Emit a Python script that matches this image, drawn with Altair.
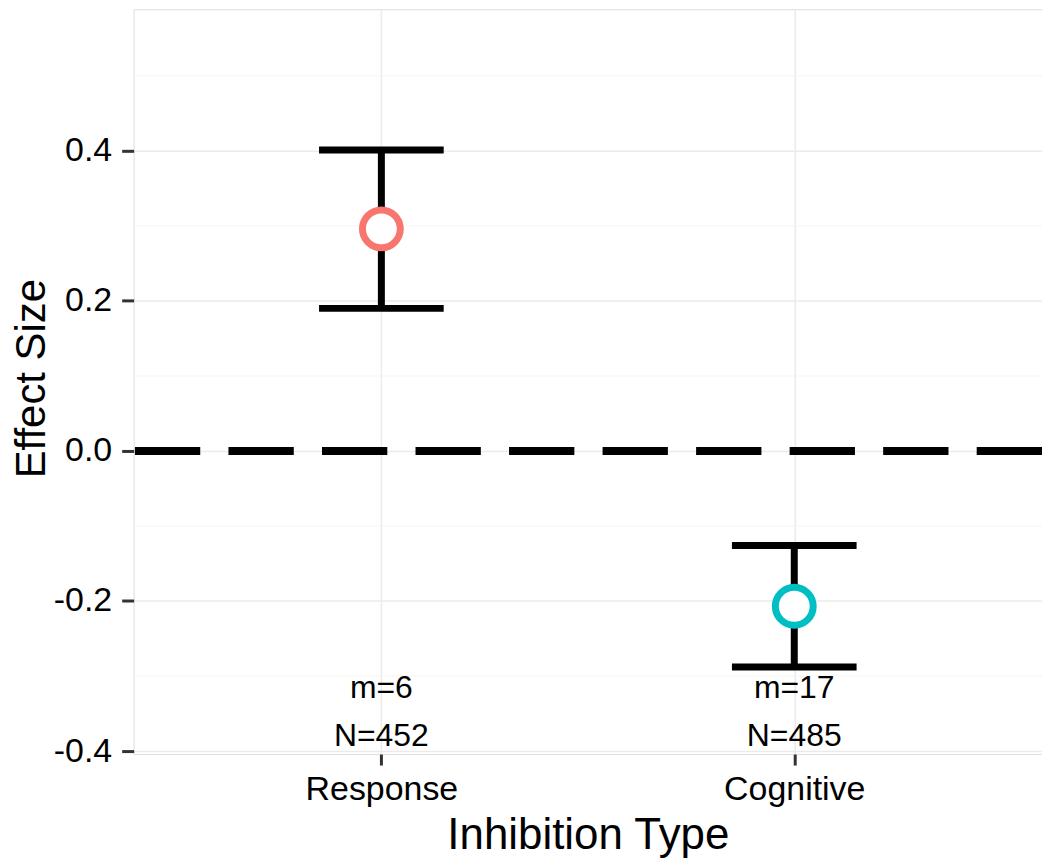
import altair as alt
import pandas as pd

# ---- data ----
categories = ["Response", "Cognitive"]
means = [0.296, -0.207]
lower = [0.190, -0.288]
upper = [0.401, -0.126]
m_labels = ["m=6", "m=17"]
n_labels = ["N=452", "N=485"]
m_label_y = [-0.316, -0.316]
n_label_y = [-0.380, -0.380]
point_colors = ["#F8766D", "#00BFC4"]
major_ticks = [-0.4, -0.2, 0.0, 0.2, 0.4]
minor_ticks = [-0.3, -0.1, 0.1, 0.3, 0.5]
y_domain = [-0.404, 0.5887]

FONT = "Liberation Sans"

df = pd.DataFrame({"cat": categories, "mean": means, "lo": lower, "hi": upper})
txt = pd.DataFrame({
    "cat": categories + categories,
    "label": m_labels + n_labels,
    "y": m_label_y + n_label_y,
})
minor_df = pd.DataFrame({"v": minor_ticks})
zero_df = pd.DataFrame({"v": [0.0]})

x_enc = alt.X(
    "cat:N",
    scale=alt.Scale(type="point", domain=categories, padding=0.6),
    axis=alt.Axis(
        title="Inhibition Type",
        labelFont=FONT, labelFontSize=34, labelColor="black", labelAngle=0,
        labelPadding=8,
        tickSize=11, tickWidth=3, tickColor="#333333",
        domain=False,
        grid=True, gridColor="#EBEBEB", gridWidth=1.5,
        titleFont=FONT, titleFontSize=44, titleFontWeight="normal", titleColor="black",
        titleBaseline="alphabetic", titleY=95,
    ),
)

y_scale = alt.Scale(domain=y_domain, nice=False, zero=False)
y_axis = alt.Axis(
    title="Effect Size",
    values=major_ticks,
    labelExpr="datum.value < 0 ? '-' + format(-datum.value, '.1f') : format(datum.value, '.1f')",
    labelFont=FONT, labelFontSize=34, labelColor="black", labelPadding=10,
    tickSize=12, tickWidth=3, tickColor="#333333",
    domain=False,
    grid=True, gridColor="#EBEBEB", gridWidth=1.5,
    titleFont=FONT, titleFontSize=42, titleFontWeight="normal", titleColor="black",
    titleAngle=-90, titleBaseline="middle", titleAlign="center",
    titleX=-102, titleY=370,
)

base = alt.Chart(df)

minor = alt.Chart(minor_df).mark_rule(color="#F4F4F4", strokeWidth=1).encode(
    y=alt.Y("v:Q", scale=y_scale, axis=y_axis)
)

zero = alt.Chart(zero_df).mark_rule(
    color="black", strokeWidth=8, strokeDash=[65.5, 28.3]
).encode(y=alt.Y("v:Q", scale=y_scale))

bars = base.mark_rule(color="black", strokeWidth=7).encode(
    x=x_enc,
    y=alt.Y("lo:Q", scale=y_scale),
    y2="hi:Q",
)

cap_hi = base.mark_tick(color="black", opacity=1, size=125, thickness=7).encode(
    x="cat:N", y=alt.Y("hi:Q", scale=y_scale)
)
cap_lo = base.mark_tick(color="black", opacity=1, size=125, thickness=7).encode(
    x="cat:N", y=alt.Y("lo:Q", scale=y_scale)
)

points = base.mark_point(
    shape="circle", size=1444, strokeWidth=7, filled=False,
    fill="white", fillOpacity=1, opacity=1,
).encode(
    x="cat:N",
    y=alt.Y("mean:Q", scale=y_scale),
    color=alt.Color(
        "cat:N",
        scale=alt.Scale(domain=categories, range=point_colors),
        legend=None,
    ),
)

labels = alt.Chart(txt).mark_text(
    font=FONT, fontSize=32, color="black", baseline="middle", align="center"
).encode(
    x=alt.X("cat:N"),
    y=alt.Y("y:Q", scale=y_scale),
    text="label:N",
)

chart = alt.layer(minor, zero, bars, cap_hi, cap_lo, points, labels).properties(
    width=911,
    height=747,
    autosize=alt.AutoSizeParams(type="none"),
    padding={"left": 126, "top": 0, "right": 0, "bottom": 105},
).configure_view(
    stroke="#8a8a8a", strokeWidth=2, fill="white"
).configure(background="white")

chart.save("out.html", embed_options={"renderer": "svg", "actions": False})
